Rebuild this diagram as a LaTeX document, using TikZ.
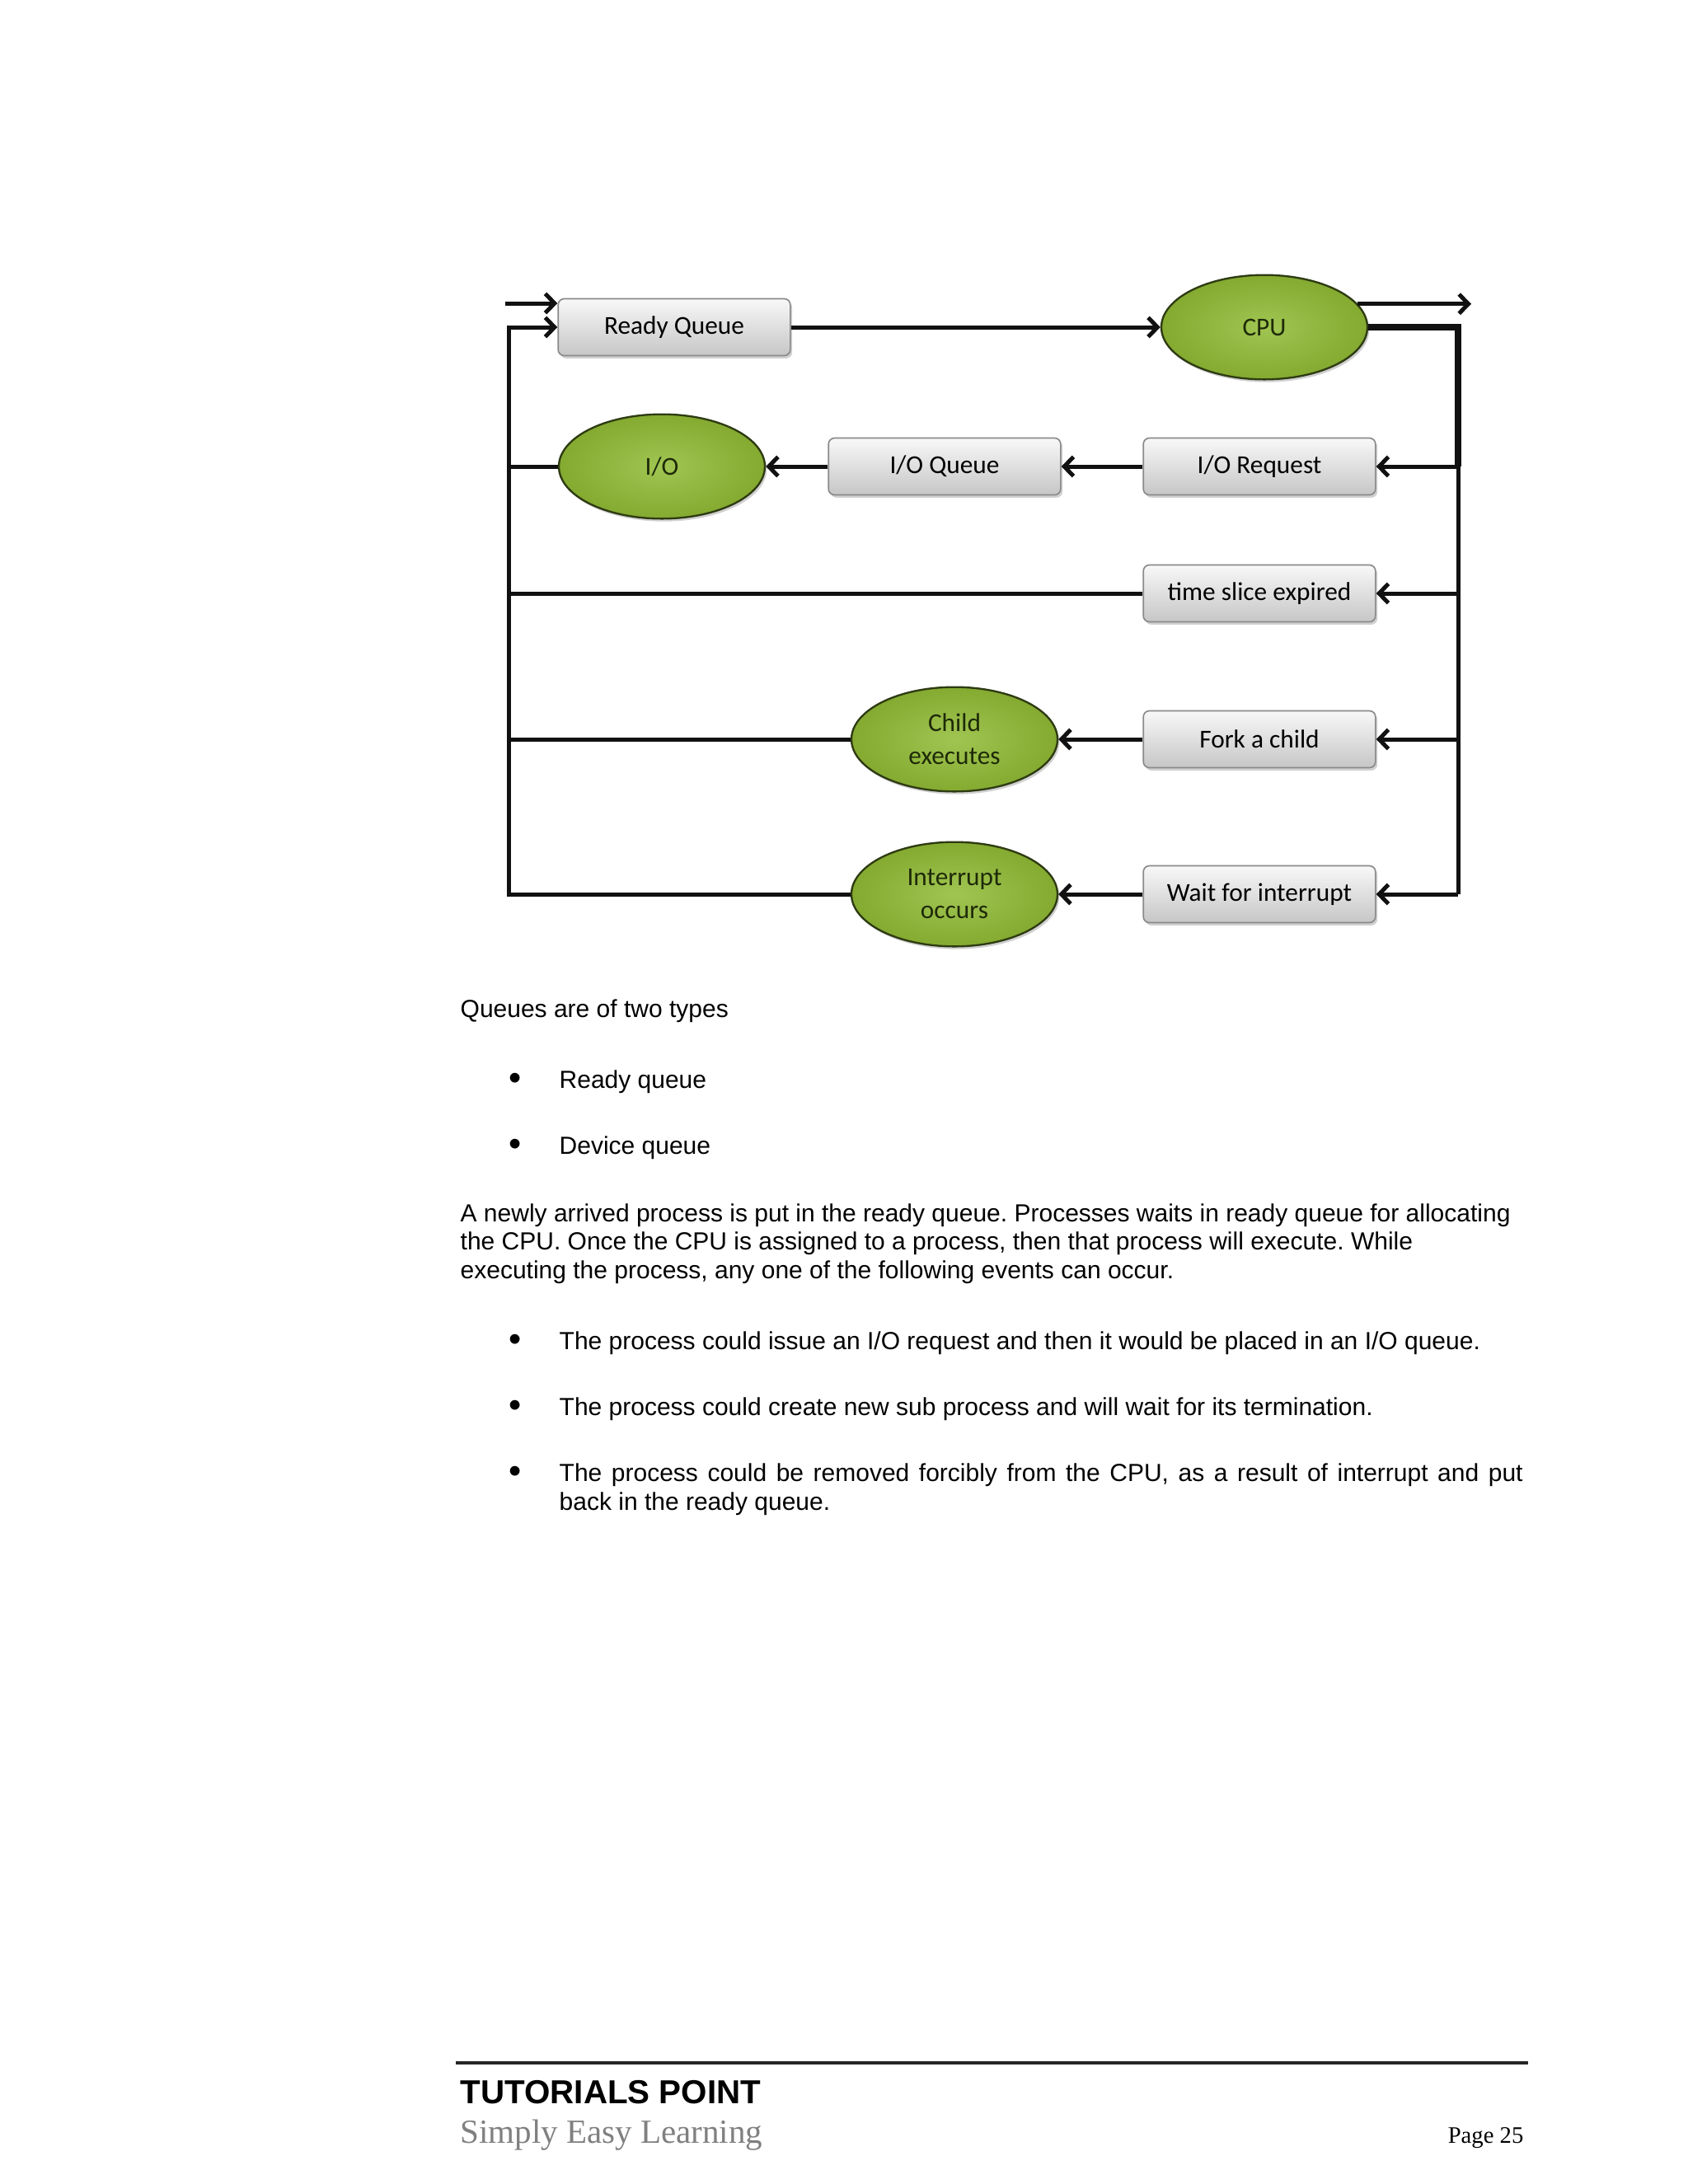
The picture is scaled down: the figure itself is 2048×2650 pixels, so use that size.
\documentclass[tikz,border=0pt]{standalone}
\usepackage{fontspec}
\setmainfont{Liberation Sans}
\newfontfamily\diagfont{Carlito}
\newfontfamily\footserif{Liberation Serif}
\usetikzlibrary{arrows.meta,shapes.geometric,shadows,calc}
\frenchspacing
\definecolor{boxtop}{HTML}{F8F8F8}
\definecolor{boxbot}{HTML}{C6C6C6}
\definecolor{boxborder}{HTML}{8A8A8A}
\definecolor{greenin}{HTML}{A0C552}
\definecolor{greenout}{HTML}{84AA30}
\definecolor{ellborder}{HTML}{2E3B12}
\definecolor{elltext}{HTML}{1E2A08}
\definecolor{linecol}{HTML}{111111}
\definecolor{footgray}{HTML}{808080}
\tikzset{
  qbox/.style={rectangle, rounded corners=2.2pt, draw=boxborder, line width=0.5pt,
    top color=boxtop, bottom color=boxbot, minimum width=84.5pt, minimum height=20.7pt,
    inner sep=0pt, font=\diagfont\fontsize{9.4}{11}\selectfont, text=black,
    drop shadow={shadow xshift=0.7pt, shadow yshift=-1pt, opacity=0.3, fill=black!60}},
  gell/.style={ellipse, draw=ellborder, line width=0.7pt,
    inner color=greenin, outer color=greenout, minimum width=75pt, minimum height=38pt,
    inner sep=0pt, align=center, font=\diagfont\fontsize{9.4}{12}\selectfont, text=elltext,
    drop shadow={shadow xshift=0.7pt, shadow yshift=-1pt, opacity=0.3, fill=black!60}},
  wire/.style={draw=linecol, line width=1.5pt},
  heavywire/.style={draw=linecol, line width=2.4pt},
  conn/.style={wire, -{Straight Barb[length=3.4pt,width=7pt]}},
  body/.style={anchor=base west, inner sep=0pt, font=\fontsize{9}{10.35}\selectfont},
  bul/.style={anchor=base, inner sep=0pt, font=\fontsize{13}{14}\selectfont},
}
\begin{document}
\begin{tikzpicture}[x=0.3pt,y=-0.3pt]
\useasboundingbox (0,0) rectangle (2048,2650);
\fill[white] (0,0) rectangle (2048,2650);

% nodes
\node[qbox] (rq) at (818,397) {Ready Queue};
\node[gell] (cpu) at (1534,397) {CPU};
\node[gell] (io) at (803,566) {I/O};
\node[qbox] (ioq) at (1146,566) {I/O Queue};
\node[qbox] (ioreq) at (1528,566) {I/O Request};
\node[qbox] (ts) at (1528,720) {time slice expired};
\node[qbox] (fork) at (1528,897) {Fork a child};
\node[gell] (child) at (1158,897) {Child\\executes};
\node[qbox] (wait) at (1528,1085) {Wait for interrupt};
\node[gell] (intr) at (1158,1085) {Interrupt\\occurs};

\coordinate (inL) at (613,368);
\coordinate (L0) at (617,397);
\coordinate (R0) at (1769,397);
\coordinate (out) at (1785,365);

% connectors
\draw[conn] (inL) -- (inL -| rq.west);
\draw[conn] (rq.east) -- (cpu.west);
\draw[conn] (cpu.14) -- (cpu.14 -| out);
\draw[heavywire] (cpu.east) -- (R0) -- (R0 |- ioreq.east);
\draw[wire] (R0 |- ioreq.east) -- (R0 |- wait.east);
\draw[conn] (R0 |- ioreq.east) -- (ioreq.east);
\draw[conn] (R0 |- ts.east) -- (ts.east);
\draw[conn] (R0 |- fork.east) -- (fork.east);
\draw[conn] (R0 |- wait.east) -- (wait.east);
\draw[conn] (ioreq.west) -- (ioq.east);
\draw[conn] (ioq.west) -- (io.east);
\draw[conn] (fork.west) -- (child.east);
\draw[conn] (wait.west) -- (intr.east);
\draw[conn] (intr.west) -| (L0) -- (rq.west);
\draw[wire] (child.west) -- (child.west -| L0);
\draw[wire] (ts.west) -- (ts.west -| L0);
\draw[wire] (io.west) -- (io.west -| L0);

% text
\node[body] (t1) at (558,1234) {Queues are of two types};
\node[bul] (b1) at (625,1322) {•};
\node[body] (t2) at (678,1320) {Ready queue};
\node[bul] (b2) at (625,1402) {•};
\node[body] (t3) at (678,1400) {Device queue};
\node[body] (p1) at (558,1482) {A newly arrived process is put in the ready queue. Processes waits in ready queue for allocating};
\node[body] (p2) at (558,1516) {the CPU. Once the CPU is assigned to a process, then that process will execute. While};
\node[body] (p3) at (558,1551) {executing the process, any one of the following events can occur.};
\node[bul] (b3) at (625,1639) {•};
\node[body] (t4) at (678,1637) {The process could issue an I/O request and then it would be placed in an I/O queue.};
\node[bul] (b4) at (625,1719) {•};
\node[body] (t5) at (678,1717) {The process could create new sub process and will wait for its termination.};
\node[bul] (b5) at (625,1799) {•};
\node[body] (t6) at (678,1797) {\makebox[350.7pt][s]{The process could be removed forcibly from the CPU, as a result of interrupt and put}};
\node[body] (t7) at (678,1832) {back in the ready queue.};

% footer
\draw[line width=1pt, draw=black!85] (553,2503) -- (1854,2503);
\node[anchor=base west, inner sep=0pt, font=\bfseries\fontsize{12.1}{14}\selectfont] (f1) at (558,2552) {TUTORIALS POINT};
\node[anchor=base west, inner sep=0pt, text=footgray, font=\footserif\fontsize{12.3}{14}\selectfont] (f2) at (558,2600) {Simply Easy Learning};
\node[anchor=base east, inner sep=0pt, font=\footserif\fontsize{8.6}{10}\selectfont] (f3) at (1849,2600) {Page 25};
\end{tikzpicture}
\end{document}
